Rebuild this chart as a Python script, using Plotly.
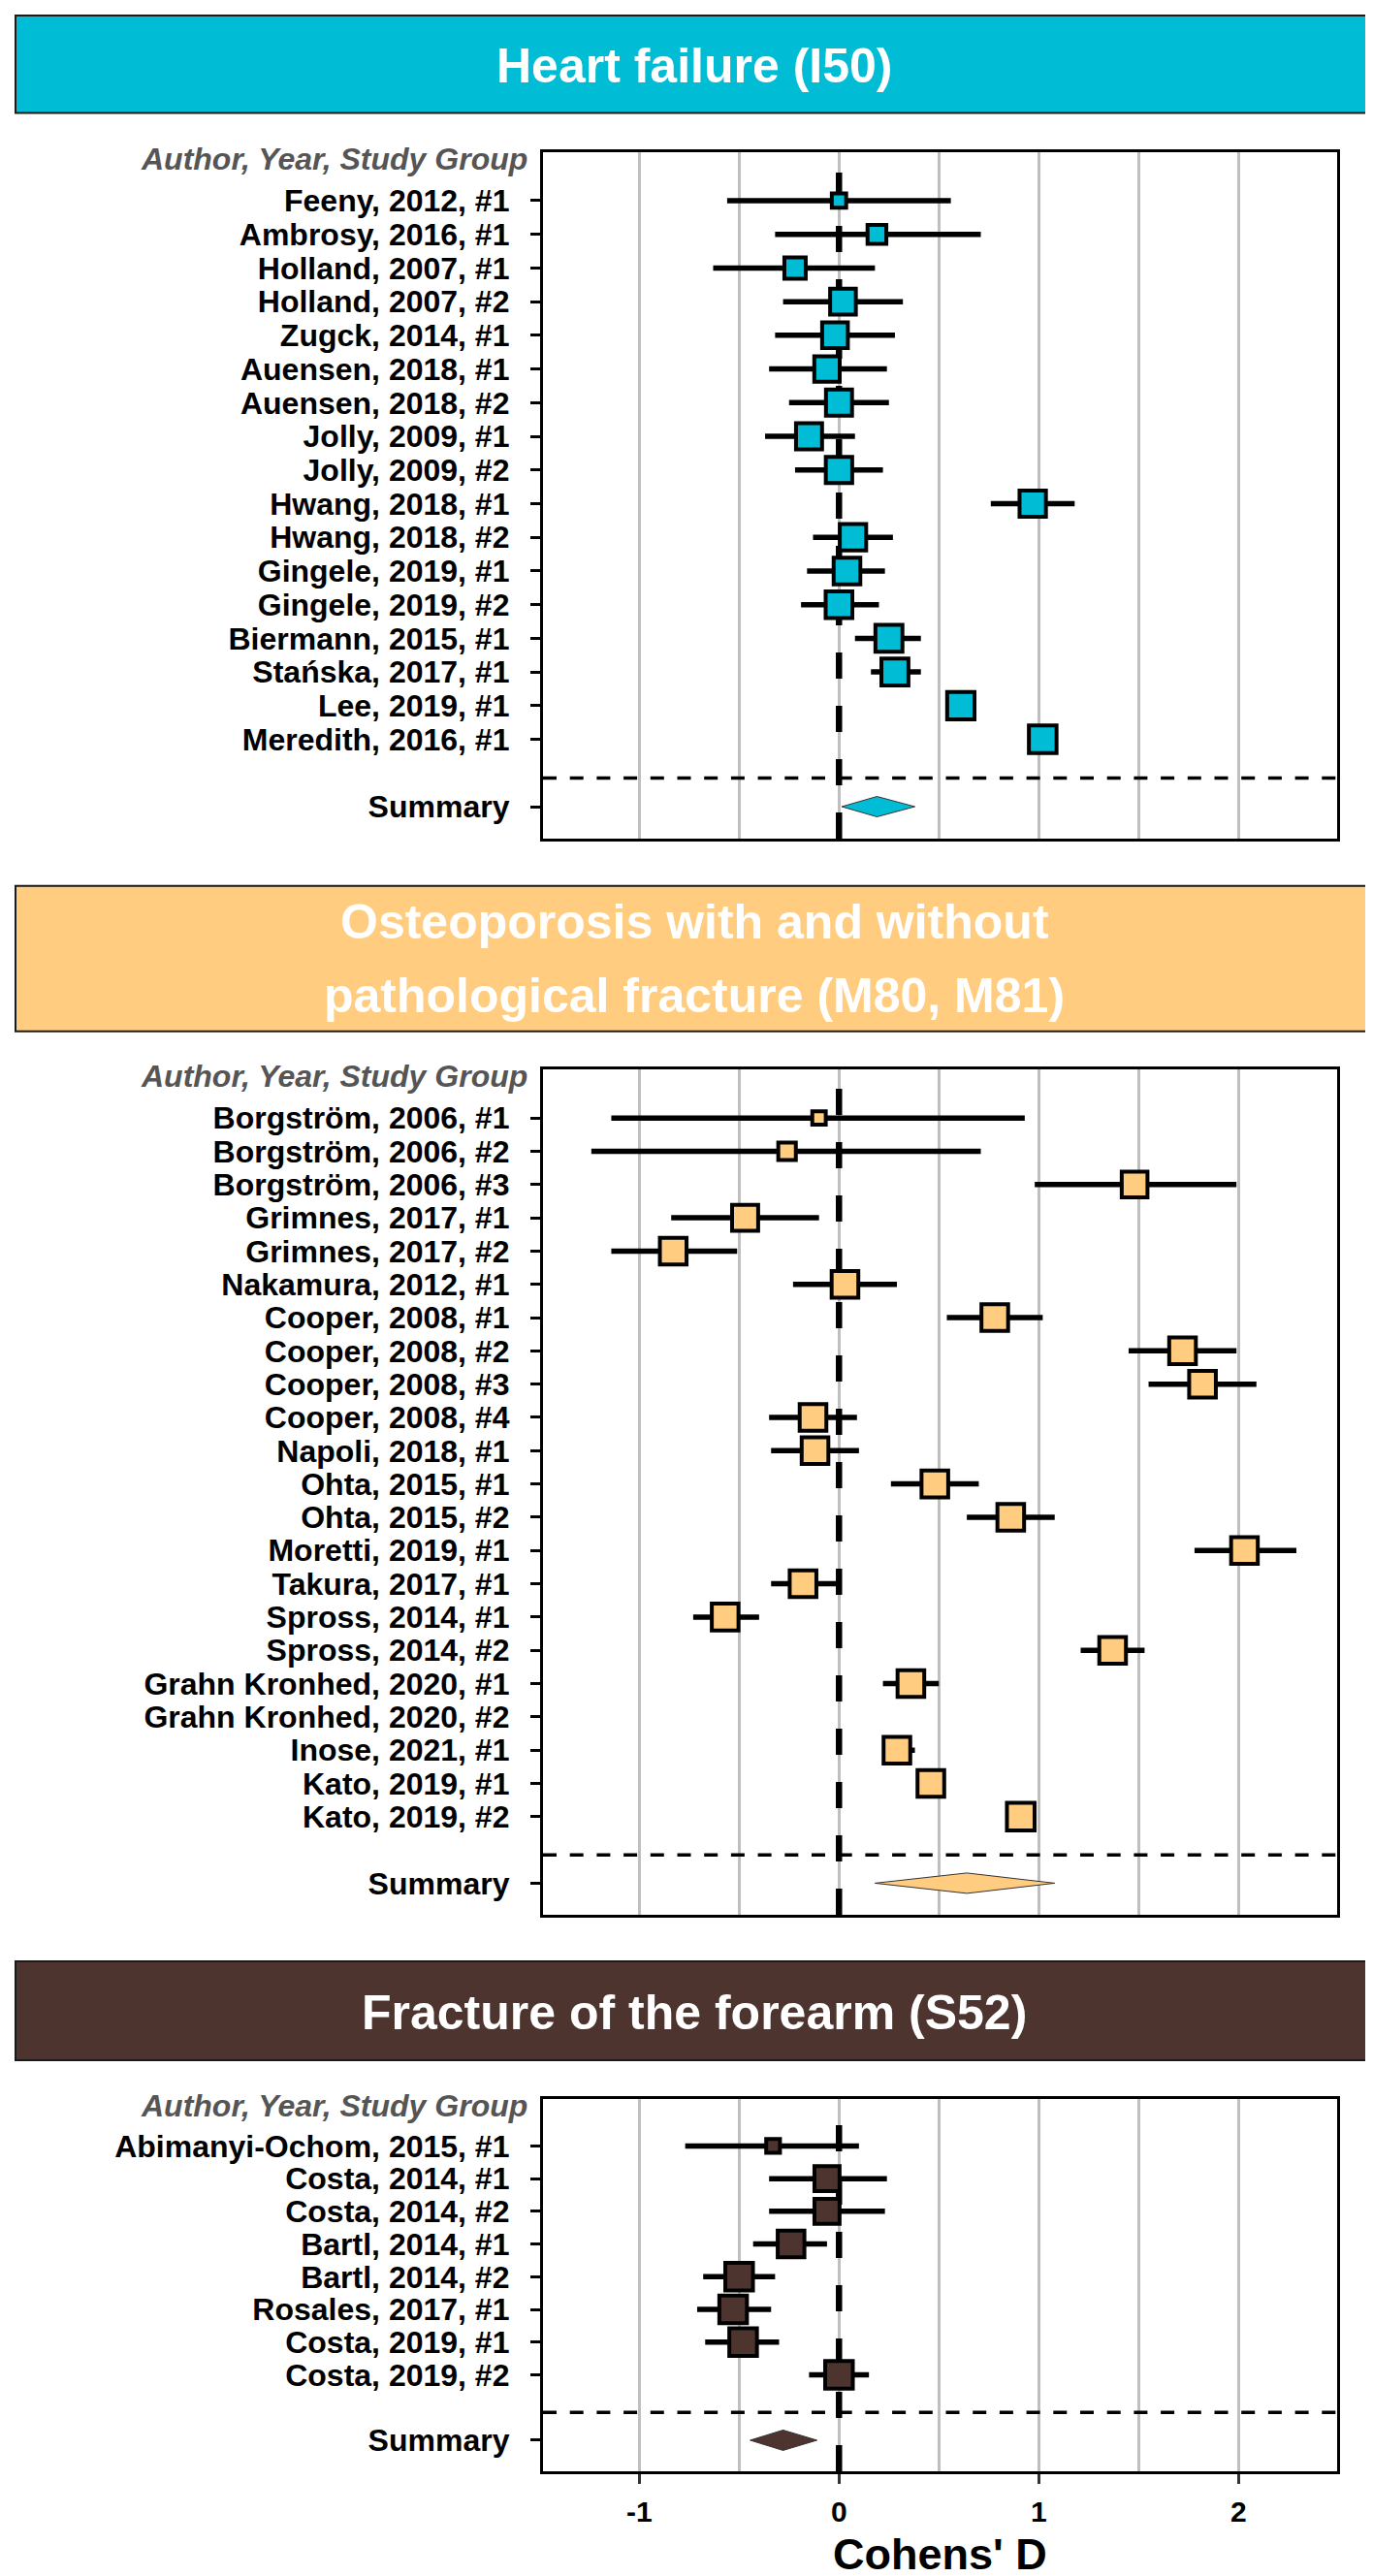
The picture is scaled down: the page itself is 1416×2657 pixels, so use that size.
import plotly.graph_objects as go

W, H = 1416, 2657
FONT = "Liberation Sans, Arial, Helvetica, sans-serif"

# ---------------- data ----------------
panel_titles = ["Heart failure (I50)",
                "Osteoporosis with and without<br>pathological fracture (M80, M81)",
                "Fracture of the forearm (S52)"]
panel_colors = ["#00BCD4", "#FFCC80", "#4E342E"]

hf_labels = ["Feeny, 2012, #1", "Ambrosy, 2016, #1", "Holland, 2007, #1", "Holland, 2007, #2",
             "Zugck, 2014, #1", "Auensen, 2018, #1", "Auensen, 2018, #2", "Jolly, 2009, #1",
             "Jolly, 2009, #2", "Hwang, 2018, #1", "Hwang, 2018, #2", "Gingele, 2019, #1",
             "Gingele, 2019, #2", "Biermann, 2015, #1", "Stańska, 2017, #1", "Lee, 2019, #1",
             "Meredith, 2016, #1"]
hf_est = [0.00, 0.19, -0.22, 0.02, -0.02, -0.06, 0.00, -0.15, 0.00, 0.97, 0.07, 0.04, 0.00,
          0.25, 0.28, 0.61, 1.02]
hf_lo = [-0.56, -0.32, -0.63, -0.28, -0.32, -0.35, -0.25, -0.37, -0.22, 0.76, -0.13, -0.16,
         -0.19, 0.08, 0.16, 0.57, 0.98]
hf_hi = [0.56, 0.71, 0.18, 0.32, 0.28, 0.24, 0.25, 0.08, 0.22, 1.18, 0.27, 0.23, 0.20,
         0.41, 0.41, 0.65, 1.06]
hf_weight = [0.58, 0.72, 0.80, 0.94, 0.94, 0.93, 0.95, 0.95, 0.96, 0.96, 0.96, 0.97, 0.97,
             0.98, 0.98, 0.99, 1.00]

op_labels = ["Borgström, 2006, #1", "Borgström, 2006, #2", "Borgström, 2006, #3",
             "Grimnes, 2017, #1", "Grimnes, 2017, #2", "Nakamura, 2012, #1", "Cooper, 2008, #1",
             "Cooper, 2008, #2", "Cooper, 2008, #3", "Cooper, 2008, #4", "Napoli, 2018, #1",
             "Ohta, 2015, #1", "Ohta, 2015, #2", "Moretti, 2019, #1", "Takura, 2017, #1",
             "Spross, 2014, #1", "Spross, 2014, #2", "Grahn Kronhed, 2020, #1",
             "Grahn Kronhed, 2020, #2", "Inose, 2021, #1", "Kato, 2019, #1", "Kato, 2019, #2"]
op_est = [-0.10, -0.26, 1.48, -0.47, -0.83, 0.03, 0.78, 1.72, 1.82, -0.13, -0.12, 0.48, 0.86,
          2.03, -0.18, -0.57, 1.37, 0.36, None, 0.29, 0.46, 0.91]
op_lo = [-1.14, -1.24, 0.98, -0.84, -1.14, -0.23, 0.54, 1.45, 1.55, -0.35, -0.34, 0.26, 0.64,
         1.78, -0.34, -0.73, 1.21, 0.22, None, 0.22, 0.42, 0.87]
op_hi = [0.93, 0.71, 1.99, -0.10, -0.51, 0.29, 1.02, 1.99, 2.09, 0.09, 0.10, 0.70, 1.08,
         2.29, 0.00, -0.40, 1.53, 0.50, None, 0.38, 0.50, 0.95]
op_weight = [0.55, 0.68, 0.94, 0.95, 0.97, 0.97, 0.97, 0.97, 0.97, 0.97, 0.97, 0.97, 0.97,
             0.97, 0.97, 0.97, 0.97, 0.97, None, 0.97, 0.97, 1.00]

fa_labels = ["Abimanyi-Ochom, 2015, #1", "Costa, 2014, #1", "Costa, 2014, #2", "Bartl, 2014, #1",
             "Bartl, 2014, #2", "Rosales, 2017, #1", "Costa, 2019, #1", "Costa, 2019, #2"]
fa_est = [-0.33, -0.06, -0.06, -0.24, -0.50, -0.53, -0.48, 0.00]
fa_lo = [-0.77, -0.35, -0.35, -0.43, -0.68, -0.71, -0.67, -0.15]
fa_hi = [0.10, 0.24, 0.23, -0.06, -0.32, -0.34, -0.30, 0.15]
fa_weight = [0.56, 0.92, 0.92, 0.97, 1.00, 1.00, 1.00, 1.00]

summary_est = [0.19, 0.64, -0.28]
summary_lo = [0.014, 0.18, -0.445]
summary_hi = [0.38, 1.08, -0.11]

x_ticks = [-1, 0, 1, 2]
x_title = "Cohens' D"
col_header = "Author, Year, Study Group"
summary_label = "Summary"

# ---------------- layout geometry (pixels) ----------------
plot_x = (552, 1371)
plot_y = [(148.6, 857.0), (1095.4, 1967.0), (2156.5, 2541.0)]
header_y = [(8.0, 108.5), (905.7, 1055.7), (2015.0, 2117.0)]
header_x = (8.0, 1408.0)
x_range = [-1.482, 2.494]
GRID = "#BFBFBF"


def py(px):
    return 1 - px / H


def pxx(px):
    return px / W


panels = [
    dict(labels=hf_labels, est=hf_est, lo=hf_lo, hi=hf_hi, w=hf_weight),
    dict(labels=op_labels, est=op_est, lo=op_lo, hi=op_hi, w=op_weight),
    dict(labels=fa_labels, est=fa_est, lo=fa_lo, hi=fa_hi, w=fa_weight),
]

fig = go.Figure()
shapes, annotations = [], []
layout_axes = {}

for i, p in enumerate(panels):
    k = i + 1
    xa, ya = ("x" if k == 1 else f"x{k}"), ("y" if k == 1 else f"y{k}")
    n = len(p["labels"])
    rows = list(range(1, n + 1))
    yr = [n + 2.95, -0.45]
    top, bot = plot_y[i]
    ppu = (bot - top) / (yr[0] - yr[1])
    color = panel_colors[i]

    # reference lines (drawn first so they sit under the data, above the grid)
    fig.add_trace(go.Scatter(
        x=[0, 0], y=[yr[0], yr[1]], xaxis=xa, yaxis=ya, mode="lines",
        line=dict(color="black", width=6.5, dash="27px,28px"),
        showlegend=False, hoverinfo="skip"))
    fig.add_trace(go.Scatter(
        x=[x_range[0], x_range[1]], y=[n + 1.15, n + 1.15], xaxis=xa, yaxis=ya, mode="lines",
        line=dict(color="black", width=3.5, dash="14px,13.7px"),
        showlegend=False, hoverinfo="skip"))

    plus = [None if e is None else h - e for e, h in zip(p["est"], p["hi"])]
    minus = [None if e is None else e - l for e, l in zip(p["est"], p["lo"])]
    sizes = [0 if w is None else 32.5 * w - 4 for w in p["w"]]

    fig.add_trace(go.Scatter(
        x=p["est"], y=rows, xaxis=xa, yaxis=ya, mode="markers",
        marker=dict(symbol="square", size=sizes, color=color, opacity=1,
                    line=dict(color="black", width=4)),
        error_x=dict(type="data", symmetric=False, array=plus, arrayminus=minus,
                     thickness=5.5, width=0, color="black"),
        showlegend=False, hoverinfo="skip"))

    # summary diamond
    s = n + 2
    hh = 10.5 / ppu
    lo, e, hi = summary_lo[i], summary_est[i], summary_hi[i]
    fig.add_trace(go.Scatter(
        x=[lo, e, hi, e, lo], y=[s, s - hh, s, s + hh, s], xaxis=xa, yaxis=ya,
        mode="lines", fill="toself", fillcolor=color,
        line=dict(color="#333333", width=1), showlegend=False, hoverinfo="skip"))

    # header box
    hy0, hy1 = header_y[i]
    shapes.append(dict(type="rect", xref="paper", yref="paper",
                       x0=pxx(header_x[0]), x1=pxx(header_x[1]), y0=py(hy1), y1=py(hy0),
                       fillcolor=color, line=dict(color="#1a1a1a", width=2), layer="above"))
    title_lines = panel_titles[i].split("<br>")
    if len(title_lines) == 1:
        centers = [(hy0 + hy1) / 2 + 1.5]
    else:
        mid = (hy0 + hy1) / 2
        centers = [mid - 37.5, mid + 38.0]
    for t, c in zip(title_lines, centers):
        annotations.append(dict(text=t, xref="paper", yref="paper",
                                x=pxx((header_x[0] + header_x[1]) / 2), y=py(c),
                                xanchor="center", yanchor="middle", showarrow=False,
                                font=dict(family=FONT, size=50, color="white", weight="bold")))

    # column header
    annotations.append(dict(text=col_header, xref="paper", yref="paper",
                            x=pxx(538), y=py(top + 7), xanchor="right", yanchor="middle",
                            showarrow=False,
                            font=dict(family=FONT, size=32, color="#555555", weight="bold",
                                      style="italic")))

    xaxis = dict(domain=[pxx(plot_x[0]), pxx(plot_x[1])], range=x_range, anchor=ya,
                 showline=True, mirror=True, linecolor="black", linewidth=3.3,
                 zeroline=False, automargin=False, fixedrange=True)
    if k < 3:
        xaxis.update(showgrid=True, gridcolor=GRID, gridwidth=2.5, dtick=0.5, tick0=0,
                     ticks="", showticklabels=False)
    else:
        xaxis.update(tickmode="array", tickvals=x_ticks, ticktext=[str(v) for v in x_ticks],
                     showgrid=True, gridcolor=GRID, gridwidth=2.5,
                     ticks="outside", ticklen=10, tickwidth=3, tickcolor="#333333",
                     tickfont=dict(family=FONT, size=30, color="black", weight="bold"),
                     ticklabelstandoff=3,
                     minor=dict(dtick=0.5, tick0=0, showgrid=True, gridcolor=GRID,
                                gridwidth=2.5, ticks=""))
    yaxis = dict(domain=[py(bot), py(top)], range=yr, anchor=xa,
                 tickmode="array", tickvals=rows + [s], ticktext=p["labels"] + [summary_label],
                 ticks="outside", ticklen=10, tickwidth=3, tickcolor="black",
                 tickfont=dict(family=FONT, size=32, color="black", weight="bold"),
                 ticklabelstandoff=15,
                 showline=True, mirror=True, linecolor="black", linewidth=3.3,
                 showgrid=False, zeroline=False, automargin=False, fixedrange=True)
    layout_axes["xaxis" if k == 1 else f"xaxis{k}"] = xaxis
    layout_axes["yaxis" if k == 1 else f"yaxis{k}"] = yaxis

annotations.append(dict(text=x_title, xref="paper", yref="paper",
                        x=pxx((plot_x[0] + plot_x[1]) / 2), y=py(2626), xanchor="center",
                        yanchor="middle", showarrow=False,
                        font=dict(family=FONT, size=45, color="black", weight="bold")))

fig.update_layout(
    template="none", width=W, height=H, margin=dict(l=0, r=0, t=0, b=0),
    paper_bgcolor="white", plot_bgcolor="white", showlegend=False,
    shapes=shapes, annotations=annotations, font=dict(family=FONT),
    **layout_axes)

fig.write_html("out.html")
